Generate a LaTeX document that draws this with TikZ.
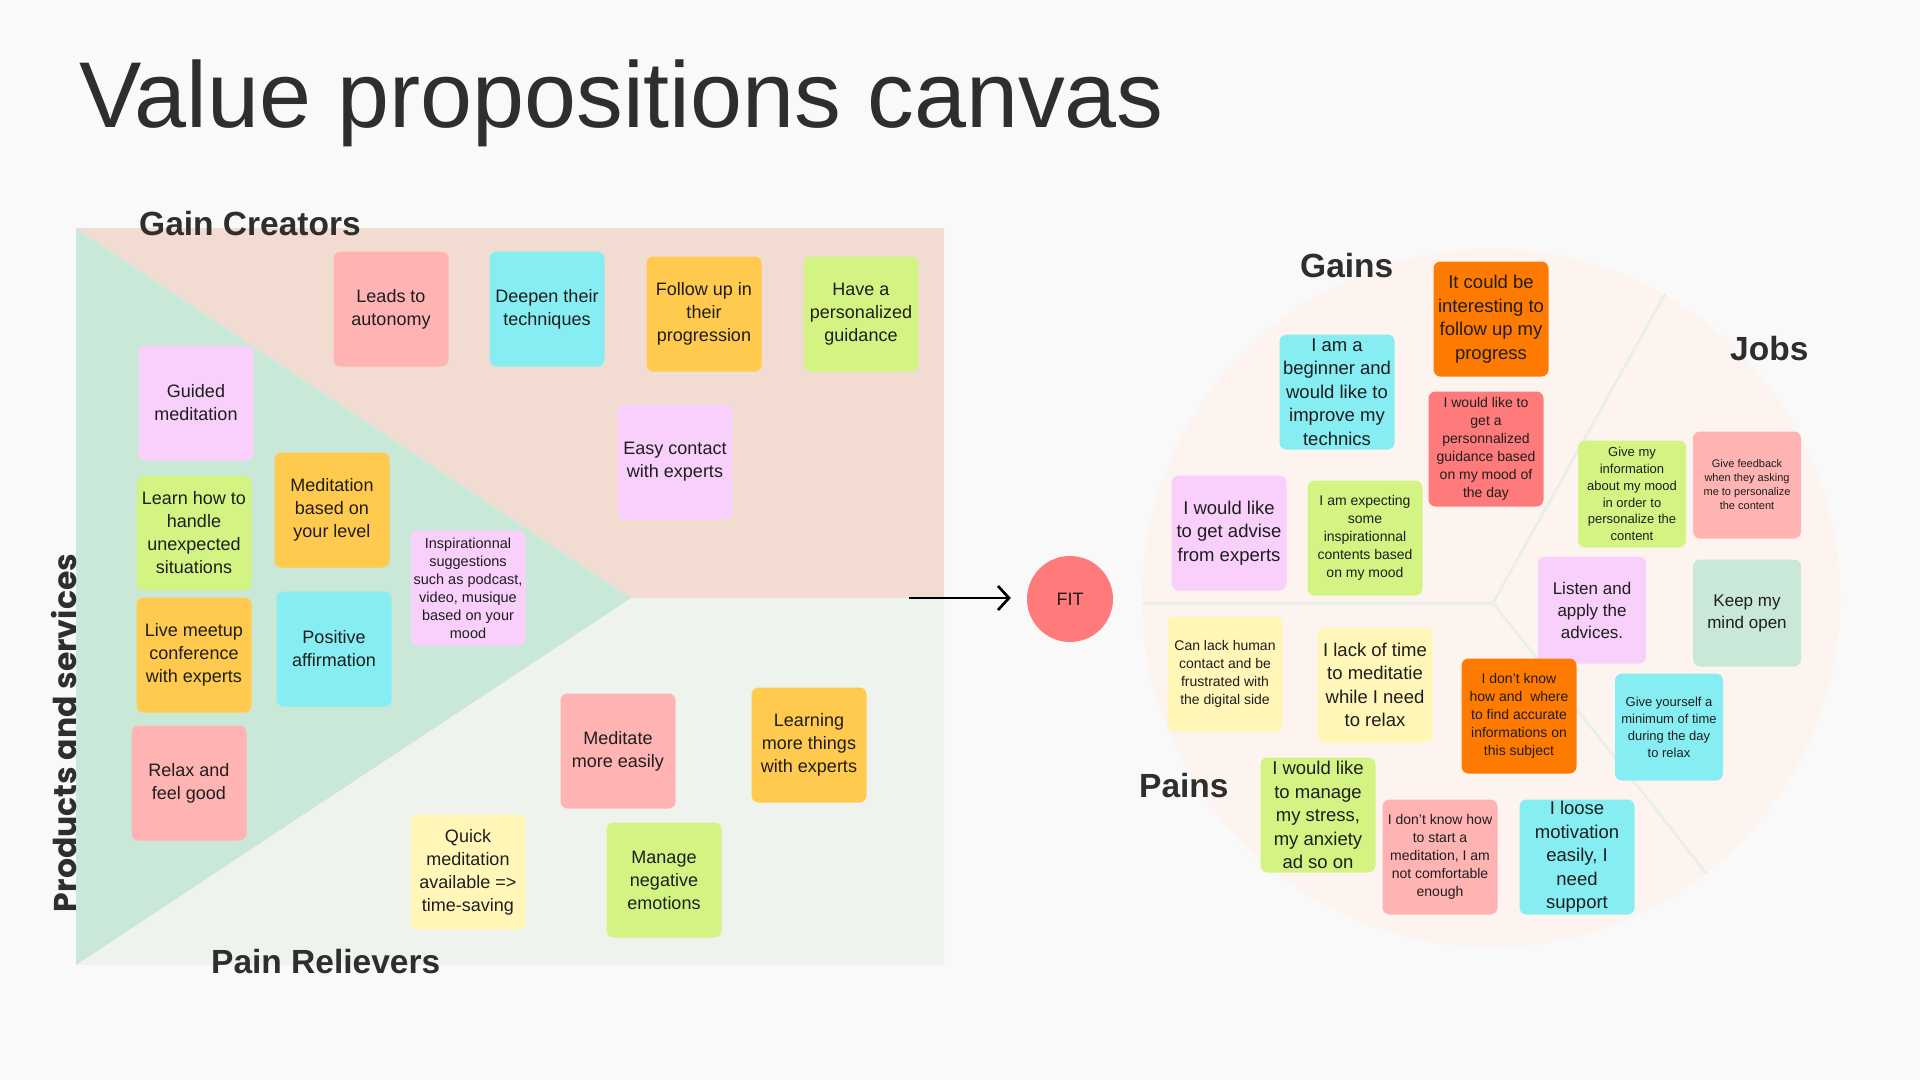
\documentclass[tikz,border=0pt]{standalone}
\usepackage{fontspec}
\setmainfont{Liberation Sans}
\newfontfamily\popfont{Poppins}
\usetikzlibrary{arrows.meta}
\definecolor{bgc}{HTML}{F9F9F9}
\definecolor{gainbg}{HTML}{F2DCD2}
\definecolor{prodbg}{HTML}{C9E8D7}
\definecolor{painbg}{HTML}{EEF3EE}
\definecolor{cpink}{HTML}{FFB3B3}
\definecolor{ccyan}{HTML}{86EDF3}
\definecolor{cyel}{HTML}{FFCA4D}
\definecolor{clime}{HTML}{D3F483}
\definecolor{clav}{HTML}{F8D0FB}
\definecolor{clyel}{HTML}{FFF6B8}
\definecolor{corange}{HTML}{FF7A00}
\definecolor{cred}{HTML}{FF7B7B}
\definecolor{cmint}{HTML}{C9E8D7}
\definecolor{circbg}{HTML}{FEF4EF}
\definecolor{circline}{HTML}{E6EFE8}
\definecolor{txt}{HTML}{1E1E1E}
\definecolor{head}{HTML}{2E2E2E}
\tikzset{
  sticky/.style={rounded corners=7pt, inner sep=0pt, minimum width=115pt, minimum height=115pt, align=center, text=txt},
  smallsticky/.style={sticky, minimum width=108pt, minimum height=107pt},
  fL/.style={font=\fontsize{18}{23}\selectfont},
  fB/.style={font=\fontsize{18.5}{23.5}\selectfont},
  fM/.style={font=\fontsize{14}{18}\selectfont},
  fJ/.style={font=\fontsize{17}{22}\selectfont},
  fS/.style={font=\fontsize{13}{16.8}\selectfont},
  fXS/.style={font=\fontsize{11}{14}\selectfont},
  heading/.style={anchor=base west, inner sep=0pt, text=head, font=\bfseries\fontsize{33.5}{36}\selectfont},
}
\begin{document}
\begin{tikzpicture}[x=1pt, y=-1pt]
\useasboundingbox (0,0) rectangle (1920,1080);
\fill[bgc] (0,0) rectangle (1920,1080);

% ---------- Left canvas ----------
\fill[gainbg] (76,228) -- (944,228) -- (944,598) -- (631,598) -- cycle;
\fill[painbg] (631,598) -- (944,598) -- (944,965) -- (76,965) -- cycle;
\fill[prodbg] (76,228) -- (631,598) -- (76,965) -- cycle;

\node[anchor=base west, inner sep=0pt, text=head, font=\fontsize{93.5}{100}\selectfont] (title) at (79,127) {Value propositions canvas};
\node[heading] (gaincre) at (139,235) {Gain Creators};
\node[heading] (painrel) at (211,973) {Pain Relievers};
\node[rotate=90, anchor=base, inner sep=0pt, text=head, font=\popfont\bfseries\fontsize{31.5}{36}\selectfont] (prod) at (76,733) {Products and services};

% gain creators
\node[sticky, fill=cpink, fL] (l1) at (391,309) {Leads to\\autonomy};
\node[sticky, fill=ccyan, fL] (l2) at (547,309) {Deepen their\\techniques};
\node[sticky, fill=cyel, fL] (l3) at (704,314) {Follow up in\\their\\progression};
\node[sticky, fill=clime, fL] (l4) at (861,314) {Have a\\personalized\\guidance};
\node[sticky, fill=clav, fL] (l6) at (675,462) {Easy contact\\with experts};
% products and services
\node[sticky, fill=clav, fL] (l5) at (196,403) {Guided\\meditation};
\node[sticky, fill=clime, fL] (l7) at (194,533) {Learn how to\\handle\\unexpected\\situations};
\node[sticky, fill=cyel, fL] (l8) at (332,510) {Meditation\\based on\\your level};
\node[sticky, fill=clav, font=\fontsize{14.5}{18}\selectfont] (l9) at (468,588) {Inspirationnal\\suggestions\\such as podcast,\\video, musique\\based on your\\mood};
\node[sticky, fill=cyel, fL] (l10) at (194,655) {Live meetup\\conference\\with experts};
\node[sticky, fill=ccyan, fL] (l11) at (334,649) {Positive\\affirmation};
\node[sticky, fill=cpink, fL] (l12) at (189,783) {Relax and\\feel good};
% pain relievers
\node[sticky, fill=cpink, fL] (l13) at (618,751) {Meditate\\more easily};
\node[sticky, fill=cyel, fL] (l14) at (809,745) {Learning\\more things\\with experts};
\node[sticky, fill=clyel, fL] (l15) at (468,872) {Quick\\meditation\\available =>\\time-saving};
\node[sticky, fill=clime, fL] (l16) at (664,880) {Manage\\negative\\emotions};

% ---------- FIT ----------
\node[circle, fill=cred, minimum size=86pt, inner sep=0pt, text=txt, font=\fontsize{18}{20}\selectfont] (fit) at (1070,599) {FIT};
\coordinate (arrowstart) at (909,598);
\draw[line width=2.7pt, -{Straight Barb[length=11pt, width=24pt, line width=2.7pt]}] (arrowstart) -- ([xshift=-16pt]fit.west |- arrowstart);

% ---------- Right circle ----------
\fill[circbg] (1491,598) circle[radius=349];
\draw[circline, line width=2.5pt] (1142,603) -- (1493,603) -- (1665,294);
\draw[circline, line width=2.5pt] (1493,603) -- (1706,873);

\node[heading] (gains) at (1300,277) {Gains};
\node[heading] (jobs) at (1730,360) {Jobs};
\node[heading] (pains) at (1139,797) {Pains};

% gains
\node[sticky, fill=corange, fB] (r1) at (1491,319) {It could be\\interesting to\\follow up my\\progress};
\node[sticky, fill=ccyan, fB] (r2) at (1337,392) {I am a\\beginner and\\would like to\\improve my\\technics};
\node[sticky, fill=cred, fM] (r3) at (1486,449) {I would like to\\get a\\personnalized\\guidance based\\on my mood of\\the day};
\node[sticky, fill=clav, fB] (r4) at (1229,533) {I would like\\to get advise\\from experts};
\node[sticky, fill=clime, fM] (r5) at (1365,538) {I am expecting\\some\\inspirationnal\\contents based\\on my mood};
% jobs
\node[smallsticky, fill=clime, fS] (r6) at (1632,494) {Give my\\information\\about my mood\\in order to\\personalize the\\content};
\node[smallsticky, fill=cpink, fXS] (r7) at (1747,485) {Give feedback\\when they asking\\me to personalize\\the content};
\node[smallsticky, fill=clav, fJ] (r8) at (1592,610) {Listen and\\apply the\\advices.};
\node[smallsticky, fill=cmint, fJ] (r9) at (1747,613) {Keep my\\mind open};
\node[smallsticky, fill=ccyan, font=\fontsize{13}{17}\selectfont] (r13) at (1669,727) {Give yourself a\\minimum of time\\during the day\\to relax};
% pains
\node[sticky, fill=clyel, fM] (r10) at (1225,674) {Can lack human\\contact and be\\frustrated with\\the digital side};
\node[sticky, fill=clyel, fB] (r11) at (1375,685) {I lack of time\\to meditatie\\while I need\\to relax};
\node[sticky, fill=corange, fM] (r12) at (1519,716) {I don't know\\how and~ where\\to find accurate\\informations on\\this subject};
\node[sticky, fill=clime, fB] (r14) at (1318,815) {I would like\\to manage\\my stress,\\my anxiety\\ad so on};
\node[sticky, fill=cpink, fM] (r15) at (1440,857) {I don't know how\\to start a\\meditation, I am\\not comfortable\\enough};
\node[sticky, fill=ccyan, fB] (r16) at (1577,857) {I loose\\motivation\\easily, I\\need\\support};
\end{tikzpicture}
\end{document}
